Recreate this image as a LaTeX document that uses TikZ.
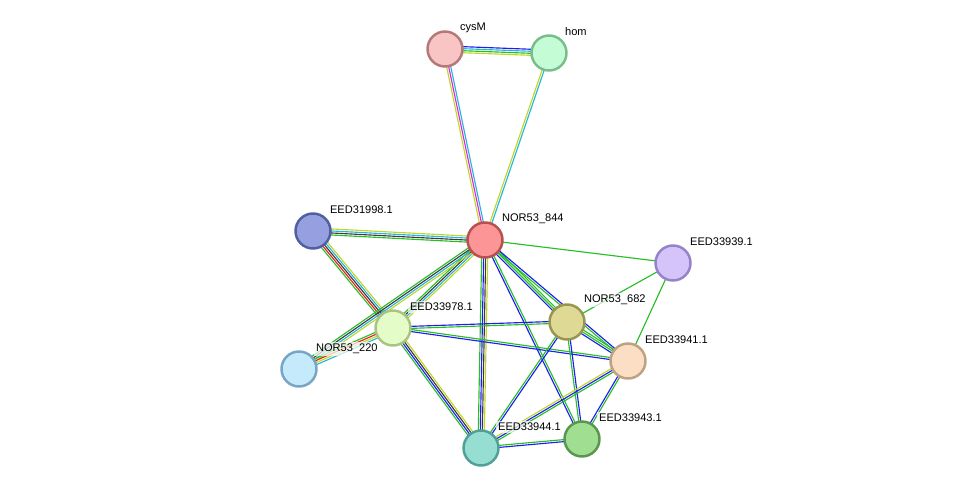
\documentclass[tikz,border=0pt]{standalone}
\usepackage{fontspec}
\setmainfont{Liberation Sans}
\usetikzlibrary{calc}
\pgfdeclarelayer{background}
\pgfsetlayers{background,main}
\definecolor{cgreen}{RGB}{40,190,40}
\definecolor{clime}{RGB}{190,215,40}
\definecolor{ccyan}{RGB}{40,180,220}
\definecolor{cblue}{RGB}{30,30,240}
\definecolor{cdark}{RGB}{60,60,60}
\definecolor{cred}{RGB}{235,30,30}
\definecolor{cmag}{RGB}{220,40,220}
\tikzset{
x=0.02cm, y=-0.02cm,
prot/.style={circle, minimum size=0.7cm, inner sep=0pt, line width=1.4pt}, % protein nodes
lbl/.style={font=\fontsize{6.3}{7}\selectfont, inner sep=1pt, fill=white, fill opacity=0.7, text opacity=1},
}
% draws one line per colour, side by side, between two nodes
\newcommand{\bundle}[3]{%
  \foreach \col [count=\i] in {#3} {\xdef\nlines{\i}}%
  \foreach \col [count=\i] in {#3} {%
    \pgfmathsetmacro{\off}{(\i-(\nlines+1)/2)*1.15}%
    \draw[\col, line width=0.65pt] ($(#1)!\off pt!90:(#2)$) -- ($(#2)!\off pt!-90:(#1)$);
  }%
}
\begin{document}
\begin{tikzpicture}
\useasboundingbox (0,0) rectangle (976,493);
\node[prot, draw={rgb,255:red,180;green,120;blue,120}, fill={rgb,255:red,248;green,196;blue,196}] (cysM) at (445,49) {};
\node[prot, draw={rgb,255:red,120;green,190;blue,140}, fill={rgb,255:red,196;green,252;blue,214}] (hom) at (549,53) {};
\node[prot, draw={rgb,255:red,185;green,80;blue,80}, fill={rgb,255:red,252;green,150;blue,150}] (n844) at (485,240) {};
\node[prot, draw={rgb,255:red,80;green,95;blue,160}, fill={rgb,255:red,150;green,160;blue,225}] (e31998) at (313,231) {};
\node[prot, draw={rgb,255:red,150;green,130;blue,200}, fill={rgb,255:red,212;green,196;blue,250}] (e33939) at (673,263) {};
\node[prot, draw={rgb,255:red,170;green,195;blue,130}, fill={rgb,255:red,228;green,252;blue,200}] (e33978) at (393,328) {};
\node[prot, draw={rgb,255:red,150;green,150;blue,80}, fill={rgb,255:red,222;green,218;blue,150}] (n682) at (567,322) {};
\node[prot, draw={rgb,255:red,190;green,160;blue,130}, fill={rgb,255:red,252;green,222;blue,196}] (e33941) at (628,361) {};
\node[prot, draw={rgb,255:red,120;green,165;blue,195}, fill={rgb,255:red,196;green,234;blue,252}] (n220) at (299,369) {};
\node[prot, draw={rgb,255:red,80;green,160;blue,150}, fill={rgb,255:red,150;green,222;blue,210}] (e33944) at (481,448) {};
\node[prot, draw={rgb,255:red,90;green,150;blue,80}, fill={rgb,255:red,160;green,222;blue,145}] (e33943) at (582,439) {};

\node[lbl, anchor=south west] at (458,35) {cysM};
\node[lbl, anchor=south west] at (563,38) {hom};
\node[lbl, anchor=south west] at (500,226) {NOR53\_844};
\node[lbl, anchor=south west] at (328,216) {EED31998.1};
\node[lbl, anchor=south west] at (688,248) {EED33939.1};
\node[lbl, anchor=south west] at (408,313) {EED33978.1};
\node[lbl, anchor=south west] at (582,307) {NOR53\_682};
\node[lbl, anchor=south west] at (643,346) {EED33941.1};
\node[lbl, anchor=south west] at (314,356) {NOR53\_220};
\node[lbl, anchor=south west] at (496,433) {EED33944.1};
\node[lbl, anchor=south west] at (597,424) {EED33943.1};

\begin{pgfonlayer}{background}
\bundle{cysM}{hom}{clime,cgreen,ccyan,cblue}
\bundle{cysM}{n844}{clime,cmag,ccyan}
\bundle{hom}{n844}{clime,ccyan}
\bundle{e31998}{n844}{cgreen,cdark,ccyan,clime}
\bundle{e31998}{e33978}{cgreen,cred,cdark,ccyan,clime}
\bundle{n844}{e33978}{cgreen,cdark,ccyan,clime}
\bundle{n844}{n220}{cgreen,cdark,ccyan,clime}
\bundle{e33978}{n220}{cgreen,cred,clime,ccyan}
\bundle{n844}{e33939}{cgreen}
\bundle{n844}{n682}{cblue,cgreen,cgreen}
\bundle{n844}{e33941}{cgreen,cblue}
\bundle{n844}{e33943}{cblue,cgreen}
\bundle{n844}{e33944}{cgreen,cblue,cdark,clime}
\bundle{e33978}{n682}{cgreen,cblue}
\bundle{e33978}{e33941}{cblue,cgreen}
\bundle{e33978}{e33944}{cgreen,cblue,cdark,clime}
\bundle{n682}{e33939}{cgreen}
\bundle{e33941}{e33939}{cgreen}
\bundle{n682}{e33941}{cblue,cgreen,cgreen}
\bundle{n682}{e33944}{cgreen,cblue}
\bundle{n682}{e33943}{cgreen,cblue}
\bundle{e33941}{e33944}{clime,cblue,cgreen}
\bundle{e33941}{e33943}{cblue,cgreen}
\bundle{e33944}{e33943}{cblue,cgreen}
\end{pgfonlayer}
\end{tikzpicture}
\end{document}
